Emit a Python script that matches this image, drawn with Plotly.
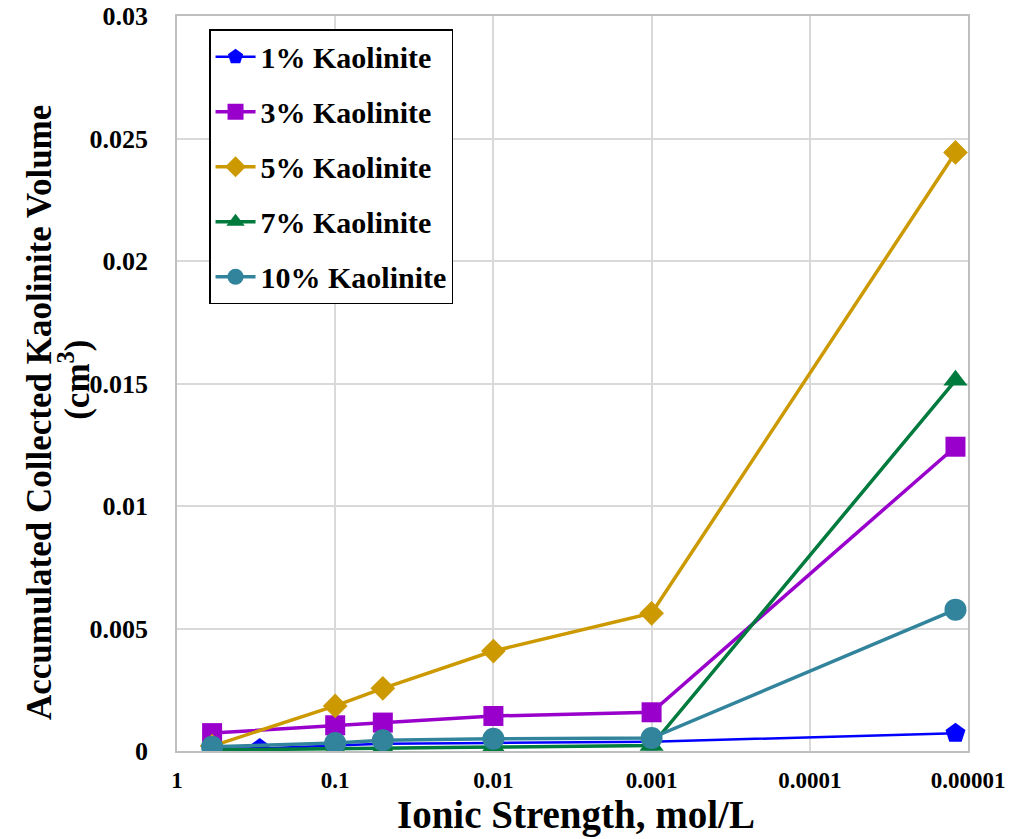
import plotly.graph_objects as go

# Ionic strength of each injection stage (mol/L)
ionic_strength = [0.6, 0.3, 0.1, 0.05, 0.01, 0.001, 0.000012]
ionic_strength_main = [0.6, 0.1, 0.05, 0.01, 0.001, 0.000012]

# Accumulated collected kaolinite volume (cm3)
kaolinite_1 = [0.0001, 0.0001, 0.00022, 0.0003, 0.00033, 0.00038, 0.00072]
kaolinite_3 = [0.00073, 0.00105, 0.00116, 0.00143, 0.00158, 0.01242]
kaolinite_5 = [0.0002, 0.00184, 0.00256, 0.00408, 0.00562, 0.02443]
kaolinite_7 = [0.00004, 0.00008, 0.00012, 0.00016, 0.00022, 0.01513]
kaolinite_10 = [0.00017, 0.00033, 0.00044, 0.0005, 0.00053, 0.00577]

x_tick_vals = [1, 0.1, 0.01, 0.001, 0.0001, 0.00001]
x_tick_text = ["1", "0.1", "0.01", "0.001", "0.0001", "0.00001"]
y_tick_vals = [0, 0.005, 0.01, 0.015, 0.02, 0.025, 0.03]
y_tick_text = ["0", "0.005", "0.01", "0.015", "0.02", "0.025", "0.03"]

FONT = "Liberation Serif"

series = [
    ("1% Kaolinite", ionic_strength, kaolinite_1, "#0000FF", "pentagon", 21, 2.5),
    ("3% Kaolinite", ionic_strength_main, kaolinite_3, "#9900CC", "square", 20, 3.5),
    ("5% Kaolinite", ionic_strength_main, kaolinite_5, "#CC9900", "diamond", 19, 3.5),
    ("7% Kaolinite", ionic_strength_main, kaolinite_7, "#007A3D", "triangle-up", 21, 3.5),
    ("10% Kaolinite", ionic_strength_main, kaolinite_10, "#31849B", "circle", 22, 3.5),
]

fig = go.Figure()
for name, xs, ys, color, symbol, size, lw in series:
    fig.add_trace(go.Scatter(
        x=xs, y=ys, name=name, mode="lines+markers",
        legendgroup=name,
        line=dict(color=color, width=lw),
        marker=dict(symbol=symbol, size=size, color=color, line=dict(width=0)),
    ))

fig.update_layout(
    width=1009, height=839,
    margin=dict(l=177, r=41, t=16, b=88, autoexpand=False),
    paper_bgcolor="white", plot_bgcolor="white",
    font=dict(family=FONT, color="black"),
    showlegend=True,
    legend=dict(
        x=0.0405, y=0.982, xanchor="left", yanchor="top",
        bgcolor="white", bordercolor="black", borderwidth=1.5,
        font=dict(family=FONT, size=30, color="black", weight="bold"),
        tracegroupgap=13, itemwidth=40,
    ),
    xaxis=dict(
        type="log", range=[0, -5], automargin=False,
        tickvals=x_tick_vals, ticktext=x_tick_text,
        tickfont=dict(family=FONT, size=23, color="black", weight="bold"),
        showgrid=True, gridcolor="#D9D9D9", gridwidth=1.5,
        showline=True, linecolor="#BFBFBF", linewidth=1.5, mirror=True,
        ticks="", ticklabelstandoff=8, zeroline=False,
    ),
    yaxis=dict(
        range=[0, 0.03], automargin=False,
        tickvals=y_tick_vals, ticktext=y_tick_text,
        tickfont=dict(family=FONT, size=26, color="black", weight="bold"),
        showgrid=True, gridcolor="#D9D9D9", gridwidth=1.5,
        showline=True, linecolor="#BFBFBF", linewidth=1.5, mirror=True,
        ticks="", ticklabelstandoff=22, zeroline=False,
    ),
    annotations=[
        dict(
            text="Ionic Strength, mol/L", xref="paper", yref="paper",
            x=0.505, y=-0.087, xanchor="center", yanchor="middle",
            showarrow=False,
            font=dict(family=FONT, size=39, color="black", weight="bold"),
        ),
        dict(
            text="Accumulated Collected Kaolinite Volume",
            xref="paper", yref="paper",
            x=-0.173, y=0.46, xanchor="center", yanchor="middle",
            textangle=-90, showarrow=False,
            font=dict(family=FONT, size=35, color="black", weight="bold"),
        ),
        dict(
            text="(cm<sup>3</sup>)",
            xref="paper", yref="paper",
            x=-0.129, y=0.505, xanchor="center", yanchor="middle",
            textangle=-90, showarrow=False,
            font=dict(family=FONT, size=35, color="black", weight="bold"),
        ),
    ],
)

fig.write_html("out.html")
